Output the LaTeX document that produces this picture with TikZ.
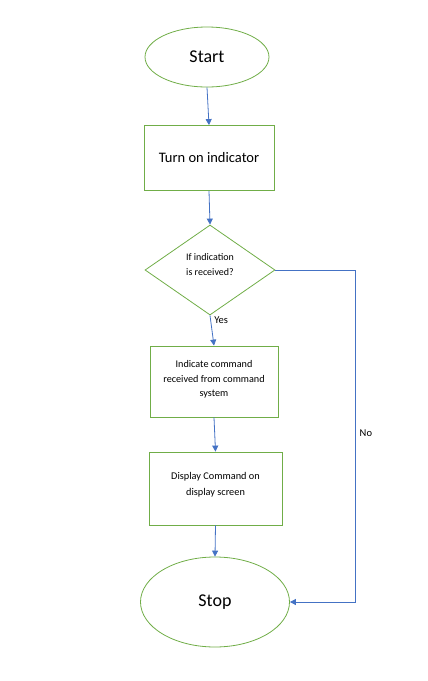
\documentclass[tikz,border=0pt]{standalone}
\usepackage{fontspec}
\setmainfont{Carlito}
\usetikzlibrary{shapes.geometric,arrows.meta}
\definecolor{boxgreen}{HTML}{70AD47}
\definecolor{flowblue}{HTML}{4472C4}
\tikzset{
  terminal/.style={draw=boxgreen, line width=0.8pt, ellipse, inner sep=0pt},
  procbox/.style={draw=boxgreen, line width=0.8pt, rectangle, inner sep=0pt, align=center},
  decision/.style={draw=boxgreen, line width=0.8pt, diamond, inner sep=0pt, align=center},
  flow/.style={draw=flowblue, line width=0.8pt, -{Triangle[length=6pt,width=6pt]}}
}
\begin{document}
\begin{tikzpicture}[x=1pt,y=-1pt]
    \useasboundingbox (0,0) rectangle (428,681);
    \node[terminal, minimum width=124, minimum height=60, font=\fontsize{18}{20}\selectfont] (start) at (207,57) {Start};
    \node[procbox, minimum width=130, minimum height=65, font=\fontsize{14.5}{16}\selectfont] (turnon) at (209,158) {Turn on indicator};
    \node[decision, minimum width=130, minimum height=90, font=\fontsize{10}{15}\selectfont] (decide) at (210,270) {If indication\\is received?\\[-5pt]};
    \node[procbox, minimum width=128, minimum height=71, font=\fontsize{10.2}{14.5}\selectfont] (indicate) at (214,381.5) {Indicate command\\received from command\\system\\[-8.5pt]};
    \node[procbox, minimum width=133, minimum height=73, font=\fontsize{10.3}{16}\selectfont] (display) at (215.5,488.5) {Display Command on\\display screen\\[-7pt]};
    \node[terminal, minimum width=149, minimum height=90, font=\fontsize{18}{20}\selectfont] (stop) at (215,602) {Stop};
    \coordinate (nocorner) at (355,270);
    % connectors
    \draw[flow] (start.south) -- (turnon.north);
    \draw[flow] (turnon.south) -- (decide.north);
    \draw[flow] (decide.south) -- node[pos=0.15, right, font=\fontsize{10.5}{12}\selectfont]{Yes} (indicate.north);
    \draw[flow] (indicate.south) -- (display.north);
    \draw[flow] (display.south) -- (stop.north);
    \draw[flow] (decide.east) -- (nocorner) |- node[pos=0.245, right, xshift=1pt, font=\fontsize{10.5}{12}\selectfont]{No} (stop.east);
\end{tikzpicture}
\end{document}
